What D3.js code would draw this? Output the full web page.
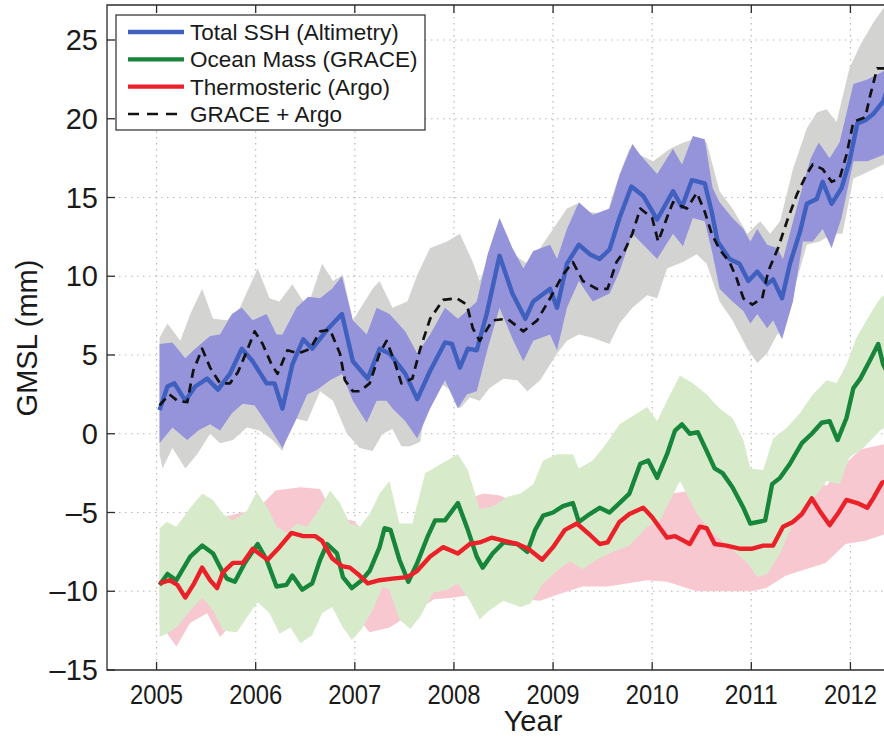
<!DOCTYPE html>
<html>
<head>
<meta charset="utf-8">
<script src="https://cdn.jsdelivr.net/npm/d3@7"></script>
<style>
  body { margin: 0; background: #fff; }
  svg { display: block; font-family: "Liberation Sans", Arial, sans-serif; }
</style>
</head>
<body>
<div id="chart"></div>
<script>
// tick values
const yearTicks = [2005, 2006, 2007, 2008, 2009, 2010, 2011, 2012];
const gmslTicks = [-15, -10, -5, 0, 5, 10, 15, 20, 25];

// series, [decimal year, mm]
const totalSSH = [[2005.03,1.5],[2005.11,3.0],[2005.18,3.2],[2005.29,2.1],[2005.39,3.0],[2005.51,3.5],[2005.62,2.8],[2005.74,3.8],[2005.86,5.4],[2005.97,4.6],[2006.11,3.2],[2006.19,3.2],[2006.27,1.6],[2006.37,4.4],[2006.48,6.0],[2006.57,5.4],[2006.72,6.6],[2006.87,7.6],[2006.98,4.6],[2007.13,3.5],[2007.25,5.4],[2007.35,5.1],[2007.51,3.8],[2007.63,2.2],[2007.76,4.0],[2007.91,5.8],[2007.98,5.7],[2008.06,4.2],[2008.14,5.4],[2008.23,5.3],[2008.33,7.6],[2008.46,11.3],[2008.59,8.9],[2008.72,7.3],[2008.80,8.4],[2008.97,9.2],[2009.04,8.0],[2009.14,10.8],[2009.26,12.0],[2009.37,11.4],[2009.47,11.1],[2009.57,11.7],[2009.67,13.7],[2009.79,15.7],[2009.91,15.1],[2010.05,13.6],[2010.21,15.4],[2010.30,14.4],[2010.40,16.1],[2010.53,15.9],[2010.60,14.1],[2010.66,12.2],[2010.78,11.1],[2010.88,10.8],[2010.97,9.7],[2011.06,10.3],[2011.16,9.5],[2011.22,9.8],[2011.31,8.6],[2011.39,10.8],[2011.49,12.8],[2011.56,14.6],[2011.66,14.9],[2011.72,16.0],[2011.81,14.6],[2011.91,15.6],[2011.99,17.3],[2012.07,19.7],[2012.15,19.9],[2012.23,20.3],[2012.33,21.1],[2012.38,22.0]];
const sshUpper = [[2005.03,5.7],[2005.16,5.8],[2005.29,4.8],[2005.39,5.4],[2005.54,6.2],[2005.64,6.3],[2005.76,7.6],[2005.86,8.0],[2005.97,7.2],[2006.11,7.6],[2006.21,6.3],[2006.27,6.3],[2006.41,8.0],[2006.53,8.7],[2006.65,8.6],[2006.77,9.2],[2006.87,10.0],[2006.98,7.2],[2007.12,6.3],[2007.22,8.0],[2007.35,7.6],[2007.51,6.5],[2007.63,5.1],[2007.76,6.3],[2007.91,8.0],[2008.04,7.3],[2008.13,7.8],[2008.23,8.4],[2008.34,11.4],[2008.46,13.7],[2008.59,11.8],[2008.70,10.5],[2008.80,11.6],[2008.97,12.0],[2009.04,11.1],[2009.14,13.0],[2009.26,14.7],[2009.40,13.9],[2009.57,14.3],[2009.67,16.4],[2009.80,18.4],[2009.88,17.7],[2010.05,16.5],[2010.21,18.1],[2010.30,17.1],[2010.41,18.9],[2010.53,18.7],[2010.61,15.6],[2010.68,14.7],[2010.81,13.7],[2010.92,13.0],[2010.99,12.2],[2011.06,13.0],[2011.16,12.0],[2011.26,11.8],[2011.32,11.1],[2011.43,13.7],[2011.53,16.0],[2011.60,17.5],[2011.68,18.5],[2011.79,17.5],[2011.89,18.5],[2012.03,22.2],[2012.17,22.5],[2012.33,23.0],[2012.38,23.5]];
const sshLower = [[2005.03,-0.6],[2005.16,0.4],[2005.31,-0.4],[2005.42,0.2],[2005.54,0.6],[2005.64,0.2],[2005.76,1.3],[2005.87,1.9],[2005.99,1.8],[2006.14,0.4],[2006.27,-0.9],[2006.40,0.8],[2006.52,2.5],[2006.62,2.8],[2006.75,3.4],[2006.87,3.8],[2006.98,2.1],[2007.12,0.7],[2007.22,2.1],[2007.32,2.1],[2007.38,1.6],[2007.51,0.8],[2007.63,-0.3],[2007.76,1.6],[2007.91,3.4],[2008.04,1.6],[2008.13,2.5],[2008.23,2.7],[2008.34,5.4],[2008.46,8.0],[2008.60,5.9],[2008.70,4.6],[2008.80,5.9],[2008.97,6.3],[2009.04,5.3],[2009.14,8.0],[2009.26,9.7],[2009.40,8.4],[2009.57,8.9],[2009.67,10.3],[2009.80,12.7],[2009.91,12.0],[2010.05,11.1],[2010.21,12.7],[2010.31,11.9],[2010.41,13.7],[2010.53,13.5],[2010.61,11.4],[2010.68,9.2],[2010.81,8.4],[2010.92,7.8],[2010.99,7.0],[2011.06,7.6],[2011.16,6.7],[2011.22,7.2],[2011.31,6.0],[2011.42,8.4],[2011.52,12.2],[2011.62,12.2],[2011.72,13.0],[2011.81,11.8],[2011.91,13.7],[2012.03,17.3],[2012.17,17.3],[2012.33,17.7],[2012.38,18.0]];

const graceArgo = [[2005.03,1.8],[2005.13,2.5],[2005.21,2.1],[2005.31,2.0],[2005.37,4.0],[2005.46,5.4],[2005.54,4.2],[2005.64,3.2],[2005.74,3.2],[2005.82,3.9],[2005.92,5.4],[2005.99,6.5],[2006.07,5.7],[2006.16,4.4],[2006.22,3.8],[2006.32,5.3],[2006.43,5.1],[2006.55,5.4],[2006.65,6.5],[2006.75,6.6],[2006.85,5.1],[2006.90,3.4],[2006.98,2.7],[2007.05,2.7],[2007.15,3.2],[2007.25,5.1],[2007.32,5.9],[2007.40,4.6],[2007.47,3.2],[2007.58,3.5],[2007.66,5.4],[2007.76,7.3],[2007.89,8.5],[2008.03,8.6],[2008.13,8.2],[2008.19,6.7],[2008.26,5.9],[2008.39,7.2],[2008.54,7.3],[2008.70,6.5],[2008.84,7.2],[2008.97,8.6],[2009.10,10.1],[2009.20,10.9],[2009.30,9.7],[2009.44,9.2],[2009.55,9.2],[2009.64,10.9],[2009.72,11.6],[2009.80,12.7],[2009.88,14.3],[2010.00,13.7],[2010.06,12.2],[2010.16,13.9],[2010.21,14.7],[2010.35,14.3],[2010.45,15.3],[2010.53,14.1],[2010.60,12.7],[2010.68,11.7],[2010.78,10.9],[2010.85,9.9],[2010.92,8.6],[2011.01,8.2],[2011.11,8.6],[2011.17,10.3],[2011.27,11.8],[2011.36,13.5],[2011.46,15.2],[2011.56,16.5],[2011.62,17.1],[2011.72,16.8],[2011.81,16.0],[2011.89,16.2],[2011.96,17.7],[2012.03,19.8],[2012.15,20.1],[2012.20,21.5],[2012.27,23.2],[2012.38,23.2]];
const gaUpper = [[2005.03,6.1],[2005.11,7.0],[2005.24,5.9],[2005.34,7.6],[2005.46,9.2],[2005.57,7.3],[2005.71,7.2],[2005.84,8.0],[2006.02,10.5],[2006.14,8.6],[2006.24,8.4],[2006.37,9.5],[2006.52,8.0],[2006.67,10.8],[2006.78,9.7],[2006.88,10.1],[2006.98,7.2],[2007.18,9.2],[2007.25,9.7],[2007.38,8.0],[2007.53,8.4],[2007.63,10.1],[2007.76,11.8],[2007.93,12.2],[2008.06,12.7],[2008.19,10.9],[2008.26,9.7],[2008.36,11.4],[2008.46,13.0],[2008.60,11.4],[2008.74,10.8],[2008.87,11.8],[2009.00,13.0],[2009.14,14.3],[2009.24,14.6],[2009.37,14.1],[2009.54,13.9],[2009.67,16.5],[2009.77,18.1],[2009.88,17.7],[2010.01,17.3],[2010.18,18.1],[2010.28,18.4],[2010.41,18.7],[2010.55,18.5],[2010.68,15.4],[2010.81,14.3],[2010.96,12.7],[2011.09,13.5],[2011.19,12.7],[2011.29,13.5],[2011.42,16.8],[2011.56,19.4],[2011.66,20.4],[2011.76,20.6],[2011.86,19.8],[2011.99,23.2],[2012.10,24.7],[2012.23,26.1],[2012.33,27.0],[2012.38,27.5]];
const gaLower = [[2005.03,-1.3],[2005.06,-2.2],[2005.16,-0.9],[2005.29,-2.2],[2005.41,-1.3],[2005.54,0.0],[2005.64,-0.6],[2005.77,-0.4],[2005.91,0.4],[2006.04,0.2],[2006.17,-0.4],[2006.27,-1.1],[2006.37,1.0],[2006.52,0.8],[2006.65,2.7],[2006.78,2.1],[2006.92,0.0],[2007.05,-0.9],[2007.18,-1.1],[2007.28,0.0],[2007.38,0.3],[2007.47,-0.8],[2007.56,-0.8],[2007.66,-0.5],[2007.73,2.3],[2007.86,3.2],[2007.96,2.8],[2008.06,1.6],[2008.16,2.3],[2008.26,2.1],[2008.36,2.9],[2008.50,3.5],[2008.64,3.4],[2008.74,2.7],[2008.87,3.4],[2009.04,5.1],[2009.14,5.9],[2009.26,6.3],[2009.40,6.1],[2009.57,5.7],[2009.67,7.0],[2009.80,8.0],[2009.95,8.8],[2010.05,8.6],[2010.15,10.5],[2010.31,10.9],[2010.45,11.4],[2010.55,10.8],[2010.68,8.4],[2010.81,7.2],[2010.96,5.4],[2011.06,4.5],[2011.16,5.1],[2011.26,6.3],[2011.32,6.5],[2011.42,8.9],[2011.56,12.0],[2011.69,12.2],[2011.82,12.7],[2011.92,12.7],[2012.03,16.2],[2012.17,16.6],[2012.33,17.1],[2012.38,17.3]];

const oceanMass = [[2005.03,-9.6],[2005.11,-8.9],[2005.20,-9.3],[2005.34,-7.8],[2005.46,-7.1],[2005.57,-7.6],[2005.66,-8.7],[2005.71,-9.2],[2005.79,-9.4],[2005.89,-8.2],[2006.02,-7.0],[2006.11,-8.0],[2006.21,-9.7],[2006.31,-9.6],[2006.37,-9.0],[2006.47,-9.9],[2006.57,-9.5],[2006.65,-8.0],[2006.72,-7.0],[2006.82,-7.6],[2006.88,-9.1],[2006.97,-9.8],[2007.07,-9.3],[2007.15,-8.7],[2007.25,-7.2],[2007.30,-6.0],[2007.36,-6.1],[2007.45,-8.0],[2007.54,-9.4],[2007.63,-8.2],[2007.73,-6.6],[2007.81,-5.5],[2007.91,-5.5],[2008.04,-4.4],[2008.14,-6.1],[2008.23,-7.8],[2008.29,-8.5],[2008.39,-7.6],[2008.50,-6.9],[2008.64,-7.0],[2008.74,-7.5],[2008.82,-6.1],[2008.90,-5.2],[2009.00,-5.0],[2009.10,-4.6],[2009.20,-4.4],[2009.26,-5.6],[2009.37,-5.1],[2009.47,-4.7],[2009.57,-5.0],[2009.67,-4.4],[2009.77,-3.8],[2009.88,-1.9],[2009.96,-1.7],[2010.05,-2.8],[2010.15,-1.3],[2010.23,0.2],[2010.30,0.6],[2010.38,0.0],[2010.46,0.1],[2010.55,-1.1],[2010.63,-2.2],[2010.71,-2.5],[2010.81,-3.4],[2010.92,-4.7],[2010.99,-5.7],[2011.14,-5.5],[2011.21,-3.2],[2011.29,-2.8],[2011.39,-1.9],[2011.51,-0.6],[2011.61,0.0],[2011.71,0.7],[2011.79,0.8],[2011.87,-0.4],[2011.96,1.0],[2012.03,2.9],[2012.10,3.5],[2012.20,4.7],[2012.28,5.7],[2012.33,4.4],[2012.38,3.8]];
const massUpper = [[2005.03,-6.0],[2005.10,-5.6],[2005.20,-5.9],[2005.34,-4.7],[2005.46,-3.8],[2005.57,-4.2],[2005.67,-5.1],[2005.77,-5.5],[2005.91,-4.9],[2006.01,-3.7],[2006.12,-4.7],[2006.21,-5.9],[2006.31,-6.3],[2006.42,-5.7],[2006.52,-5.9],[2006.65,-4.7],[2006.75,-3.6],[2006.85,-4.4],[2006.95,-5.7],[2007.05,-5.9],[2007.15,-5.1],[2007.25,-3.8],[2007.35,-3.0],[2007.45,-5.7],[2007.58,-5.7],[2007.71,-2.5],[2007.93,-1.7],[2008.04,-1.3],[2008.14,-2.3],[2008.26,-4.8],[2008.39,-4.6],[2008.54,-4.0],[2008.67,-3.8],[2008.80,-3.2],[2008.90,-1.7],[2009.04,-1.3],[2009.20,-1.3],[2009.26,-2.2],[2009.40,-1.7],[2009.54,-0.6],[2009.67,0.6],[2009.85,1.3],[2009.95,1.7],[2010.05,0.8],[2010.18,2.5],[2010.28,3.7],[2010.41,3.2],[2010.55,2.5],[2010.68,1.6],[2010.81,1.0],[2010.92,-0.4],[2010.99,-2.2],[2011.12,-2.3],[2011.22,-0.3],[2011.36,0.4],[2011.49,1.3],[2011.62,2.5],[2011.76,3.4],[2011.86,3.2],[2011.96,4.4],[2012.06,6.1],[2012.20,7.6],[2012.30,8.6],[2012.38,9.0]];
const massLower = [[2005.03,-12.9],[2005.10,-12.7],[2005.20,-12.3],[2005.34,-11.2],[2005.46,-10.4],[2005.57,-11.2],[2005.67,-12.5],[2005.81,-12.6],[2005.94,-11.4],[2006.02,-10.7],[2006.14,-11.4],[2006.24,-12.7],[2006.35,-12.3],[2006.45,-13.3],[2006.57,-12.8],[2006.67,-11.4],[2006.77,-11.0],[2006.88,-12.3],[2006.97,-13.1],[2007.07,-12.4],[2007.18,-11.2],[2007.28,-9.7],[2007.35,-9.9],[2007.45,-11.8],[2007.56,-12.4],[2007.66,-11.6],[2007.79,-10.1],[2007.93,-9.9],[2008.04,-9.5],[2008.16,-10.6],[2008.26,-11.8],[2008.36,-11.2],[2008.50,-10.6],[2008.67,-11.0],[2008.77,-10.8],[2008.90,-9.5],[2009.04,-8.7],[2009.17,-8.1],[2009.30,-8.6],[2009.44,-8.0],[2009.60,-7.5],[2009.77,-7.1],[2009.95,-5.9],[2010.08,-5.5],[2010.28,-3.0],[2010.45,-5.1],[2010.61,-6.3],[2010.78,-7.2],[2010.96,-8.2],[2011.06,-9.1],[2011.16,-8.9],[2011.29,-7.6],[2011.46,-5.1],[2011.62,-4.2],[2011.76,-3.0],[2011.89,-3.2],[2011.99,-1.5],[2012.13,-0.9],[2012.30,0.2],[2012.38,0.5]];

const thermosteric = [[2005.03,-9.5],[2005.13,-9.3],[2005.21,-9.6],[2005.29,-10.4],[2005.37,-9.6],[2005.46,-8.5],[2005.54,-9.3],[2005.61,-9.8],[2005.67,-8.8],[2005.77,-8.2],[2005.87,-8.2],[2005.97,-7.3],[2006.12,-8.0],[2006.24,-7.2],[2006.36,-6.3],[2006.48,-6.5],[2006.60,-6.5],[2006.67,-6.8],[2006.77,-7.9],[2006.87,-8.4],[2006.95,-8.5],[2007.03,-8.9],[2007.13,-9.5],[2007.25,-9.3],[2007.38,-9.2],[2007.53,-9.1],[2007.63,-8.7],[2007.76,-7.8],[2007.89,-7.2],[2008.04,-7.6],[2008.16,-7.0],[2008.26,-6.9],[2008.38,-6.6],[2008.51,-6.8],[2008.64,-7.0],[2008.75,-7.3],[2008.89,-8.0],[2009.00,-7.2],[2009.12,-6.1],[2009.24,-5.7],[2009.35,-6.3],[2009.47,-7.0],[2009.55,-6.9],[2009.67,-5.6],[2009.77,-5.1],[2009.91,-4.7],[2010.00,-5.3],[2010.15,-6.6],[2010.23,-6.5],[2010.38,-7.0],[2010.48,-5.9],[2010.55,-6.0],[2010.63,-7.0],[2010.75,-7.1],[2010.88,-7.3],[2011.01,-7.3],[2011.12,-7.1],[2011.22,-7.1],[2011.32,-5.9],[2011.42,-5.6],[2011.51,-5.1],[2011.61,-4.1],[2011.69,-4.9],[2011.79,-5.8],[2011.87,-5.1],[2011.96,-4.2],[2012.07,-4.4],[2012.17,-4.7],[2012.23,-4.1],[2012.32,-3.1],[2012.38,-3.0]];
const thermoUpper = [[2005.03,-7.0],[2005.28,-7.5],[2005.50,-6.0],[2005.67,-5.3],[2005.86,-5.0],[2006.00,-4.9],[2006.20,-3.6],[2006.45,-3.4],[2006.65,-3.5],[2006.80,-5.3],[2006.98,-5.5],[2007.15,-6.5],[2007.35,-6.3],[2007.55,-6.2],[2007.80,-6.0],[2007.95,-5.5],[2008.10,-4.2],[2008.30,-3.8],[2008.45,-3.9],[2008.70,-4.5],[2008.95,-4.3],[2009.20,-4.0],[2009.45,-4.0],[2009.65,-3.5],[2009.85,-3.2],[2010.00,-3.8],[2010.20,-3.8],[2010.40,-3.6],[2010.60,-4.2],[2010.80,-4.5],[2011.00,-4.5],[2011.20,-4.0],[2011.40,-3.2],[2011.60,-2.8],[2011.76,-3.3],[2011.90,-2.2],[2012.10,-1.0],[2012.38,-0.6]];
const thermoLower = [[2005.03,-12.0],[2005.20,-13.5],[2005.34,-12.0],[2005.51,-11.4],[2005.64,-12.9],[2005.80,-11.8],[2006.00,-10.5],[2006.20,-11.0],[2006.40,-10.0],[2006.60,-10.3],[2006.80,-11.0],[2007.00,-11.5],[2007.15,-12.6],[2007.35,-12.3],[2007.60,-11.3],[2007.80,-10.5],[2008.00,-10.4],[2008.20,-10.2],[2008.45,-10.3],[2008.70,-10.5],[2008.87,-10.6],[2009.05,-10.2],[2009.30,-9.7],[2009.55,-9.7],[2009.95,-9.3],[2010.15,-9.4],[2010.45,-10.0],[2010.70,-10.0],[2011.00,-10.0],[2011.15,-9.8],[2011.35,-9.0],[2011.55,-8.6],[2011.75,-8.2],[2011.95,-7.0],[2012.15,-6.8],[2012.38,-6.3]];

const legendLabels = ["Total SSH (Altimetry)", "Ocean Mass (GRACE)", "Thermosteric (Argo)", "GRACE + Argo"];

const W = 884, H = 738;
const pLeft = 107, pRight = 900, pTop = 5, pBottom = 670;

const svg = d3.select("#chart").append("svg")
  .attr("width", W)
  .attr("height", H);

const x = d3.scaleLinear().domain([2004.5, 2012.5]).range([pLeft, pRight]);
const y = d3.scaleLinear().domain([-15, 25]).range([pBottom, 40]);

svg.append("clipPath").attr("id", "plot")
  .append("rect")
  .attr("x", pLeft).attr("y", pTop)
  .attr("width", pRight - pLeft).attr("height", pBottom - pTop);

// dotted grid
const grid = svg.append("g").attr("stroke", "#b8b8b8").attr("stroke-width", 1.2)
  .attr("stroke-dasharray", "1.5,4.5");
grid.selectAll("line.v").data(yearTicks).enter().append("line")
  .attr("x1", d => x(d)).attr("x2", d => x(d))
  .attr("y1", pTop).attr("y2", pBottom);
grid.selectAll("line.h").data(gmslTicks.filter(d => d > -15)).enter().append("line")
  .attr("x1", pLeft).attr("x2", pRight)
  .attr("y1", d => y(d)).attr("y2", d => y(d));

const plot = svg.append("g").attr("clip-path", "url(#plot)");

const line = d3.line().x(d => x(d[0])).y(d => y(d[1]));
function band(upper, lower) {
  return line(upper.concat(lower.slice().reverse())) + "Z";
}

plot.append("path").attr("d", band(gaUpper, gaLower)).attr("fill", "#d3d4d2");
plot.append("path").attr("d", band(sshUpper, sshLower)).attr("fill", "#9593d9");
plot.append("path").attr("d", band(thermoUpper, thermoLower)).attr("fill", "#f8c8d0");
plot.append("path").attr("d", band(massUpper, massLower)).attr("fill", "#d7ebcb");

const seriesStyle = [
  { data: totalSSH, color: "#3f60bf", width: 4.4, dash: null },
  { data: oceanMass, color: "#17853a", width: 4.4, dash: null },
  { data: thermosteric, color: "#ea2128", width: 4.4, dash: null },
  { data: graceArgo, color: "#111", width: 2.7, dash: "9,6" }
];

plot.selectAll("path.series").data(seriesStyle).enter().append("path")
  .attr("class", "series")
  .attr("d", d => line(d.data))
  .attr("fill", "none")
  .attr("stroke", d => d.color)
  .attr("stroke-width", d => d.width)
  .attr("stroke-linejoin", "round")
  .attr("stroke-dasharray", d => d.dash);

// frame and inner ticks
const axisColor = "#2b2b2b";
svg.append("path")
  .attr("d", `M${pRight},${pTop}H${pLeft}V${pBottom}H${pRight}`)
  .attr("fill", "none").attr("stroke", axisColor).attr("stroke-width", 1.3);

const tickLen = 8;
const ticks = svg.append("g").attr("stroke", axisColor).attr("stroke-width", 1.3);
ticks.selectAll("line.xb").data(yearTicks).enter().append("line")
  .attr("x1", d => x(d)).attr("x2", d => x(d))
  .attr("y1", pBottom).attr("y2", pBottom - tickLen);
ticks.selectAll("line.xt").data(yearTicks).enter().append("line")
  .attr("x1", d => x(d)).attr("x2", d => x(d))
  .attr("y1", pTop).attr("y2", pTop + tickLen);
ticks.selectAll("line.yl").data(gmslTicks).enter().append("line")
  .attr("x1", pLeft).attr("x2", pLeft + tickLen)
  .attr("y1", d => y(d)).attr("y2", d => y(d));

svg.append("g").selectAll("text").data(yearTicks).enter().append("text")
  .attr("x", d => x(d)).attr("y", 704)
  .attr("text-anchor", "middle")
  .attr("font-size", 28).attr("fill", "#1a1a1a")
  .attr("textLength", 53).attr("lengthAdjust", "spacingAndGlyphs")
  .text(d => d);

svg.append("g").selectAll("text").data(gmslTicks).enter().append("text")
  .attr("x", 98).attr("y", d => y(d) + 10)
  .attr("text-anchor", "end")
  .attr("font-size", 29).attr("fill", "#1a1a1a")
  .text(d => d < 0 ? "\u2013" + Math.abs(d) : d);

svg.append("text")
  .attr("x", 533).attr("y", 731)
  .attr("text-anchor", "middle")
  .attr("font-size", 29).attr("fill", "#1a1a1a")
  .text("Year");

svg.append("text")
  .attr("transform", "translate(37,338) rotate(-90)")
  .attr("text-anchor", "middle")
  .attr("font-size", 29).attr("fill", "#1a1a1a")
  .text("GMSL (mm)");

// legend
const legend = svg.append("g");
legend.append("rect")
  .attr("x", 116).attr("y", 15)
  .attr("width", 309).attr("height", 115)
  .attr("fill", "#fff").attr("stroke", axisColor).attr("stroke-width", 1.2);

const rowY = d3.scalePoint().domain(legendLabels).range([32, 114]);
const rows = legend.selectAll("g.row").data(legendLabels).enter().append("g");
rows.append("line")
  .attr("x1", 128).attr("x2", 184)
  .attr("y1", d => rowY(d)).attr("y2", d => rowY(d))
  .attr("stroke", (d, i) => seriesStyle[i].color)
  .attr("stroke-width", (d, i) => seriesStyle[i].width)
  .attr("stroke-dasharray", (d, i) => seriesStyle[i].dash ? "11,8" : null);
rows.append("text")
  .attr("x", 190).attr("y", d => rowY(d) + 8)
  .attr("font-size", 22.5).attr("fill", "#1a1a1a")
  .text(d => d);
</script>
</body>
</html>
